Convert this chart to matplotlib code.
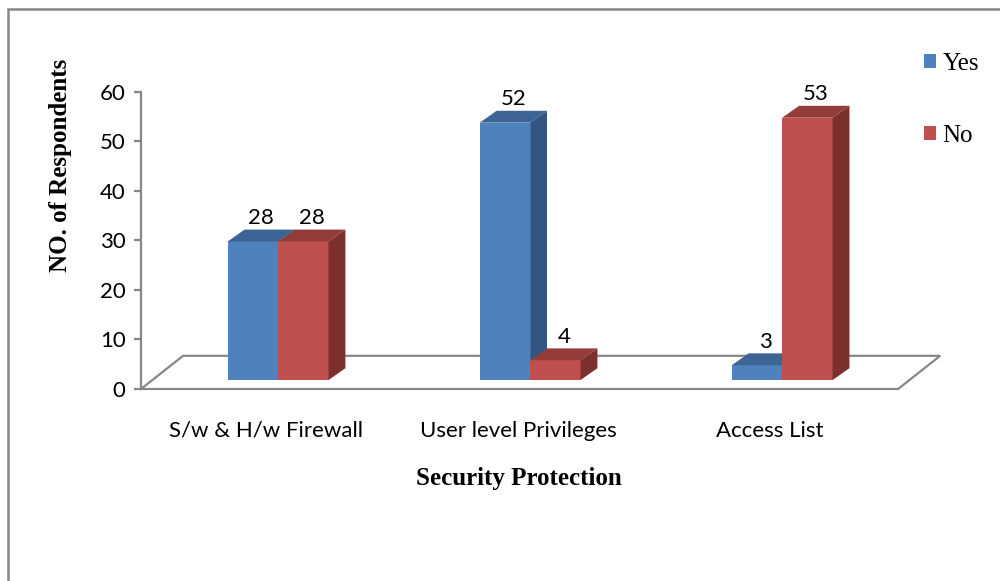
import matplotlib
matplotlib.use('Agg')
import matplotlib.pyplot as plt
from matplotlib.patches import Polygon, Rectangle, Patch

# data
categories = ['S/w & H/w Firewall', 'User level Privileges', 'Access List']
series = ['Yes', 'No']
yes_vals = [28, 52, 3]
no_vals = [28, 4, 53]
yticks = [0, 10, 20, 30, 40, 50, 60]

# face colours: front, top, side
blue = ('#4F81BD', '#3C6494', '#325581')
red = ('#C0504D', '#943C3A', '#7B302E')

# fake 3d geometry in data units
w = 0.2            # bar width
bdx, bdy = 0.067, 2.4   # bar depth
offx, offy = 0.048, 1.8 # bars sit a little way back on the floor
fdx, fdy = 0.167, 6.7   # floor depth
gray = '#878787'

sans = ['Lato', 'DejaVu Sans']
serif = ['Liberation Serif', 'DejaVu Serif']

fig = plt.figure(figsize=(10, 5.81), dpi=100)
ax = fig.add_axes([0.141, 0.3305, 0.809, 0.5112])
pos = list(range(len(categories)))
ax.set_xlim(-0.496, 2.714)
ax.set_ylim(0, 60)

# floor
x_lo, x_hi = -0.496, 2.508
floor = Polygon([(x_lo, 0), (x_hi, 0), (x_hi + fdx, fdy), (x_lo + fdx, fdy)],
                closed=True, fill=False, edgecolor=gray, lw=1.6, zorder=1, clip_on=False)
ax.add_patch(floor)


def bar3d(x0, h, cols):
    x1 = x0 + w
    b = offy
    t = offy + h
    ax.add_patch(Polygon([(x0, b), (x1, b), (x1, t), (x0, t)], closed=True,
                         facecolor=cols[0], edgecolor='none', zorder=3, clip_on=False))
    ax.add_patch(Polygon([(x0, t), (x1, t), (x1 + bdx, t + bdy), (x0 + bdx, t + bdy)], closed=True,
                         facecolor=cols[1], edgecolor='none', zorder=3, clip_on=False))
    ax.add_patch(Polygon([(x1, b), (x1 + bdx, b + bdy), (x1 + bdx, t + bdy), (x1, t)], closed=True,
                         facecolor=cols[2], edgecolor='none', zorder=3, clip_on=False))
    ax.annotate(str(h), (x0 + w / 2 + bdx / 2, t + bdy), xytext=(0, 1), textcoords='offset points',
                ha='center', va='bottom', fontsize=16, family=sans, zorder=5)


for p, yv, nv in zip(pos, yes_vals, no_vals):
    bar3d(p + offx - w, yv, blue)
    bar3d(p + offx, nv, red)

# axes styling
for s in ['top', 'right', 'bottom']:
    ax.spines[s].set_visible(False)
ax.spines['left'].set_color(gray)
ax.spines['left'].set_linewidth(1.6)
ax.spines['left'].set_zorder(2)
ax.set_yticks(yticks)
ax.tick_params(axis='y', length=5, width=1.6, color=gray, labelsize=16, pad=6)
ax.set_xticks(pos, categories)
ax.tick_params(axis='x', length=0, labelsize=16, pad=23)
for lab in ax.get_xticklabels() + ax.get_yticklabels():
    lab.set_family(sans)

fig.text(0.519, 1 - 478 / 581, 'Security Protection', ha='center', va='center',
         fontsize=18, fontweight='bold', family=serif)
fig.text(0.060, 1 - 165 / 581, 'NO. of Respondents', ha='center', va='center', rotation=90,
         fontsize=18, fontweight='bold', family=serif)

handles = [Patch(facecolor=blue[0]), Patch(facecolor=red[0])]
ax.legend(handles, series, loc='upper left', bbox_to_anchor=(0.911, 0.93),
          bbox_transform=fig.transFigure, frameon=False, prop={'family': serif, 'size': 18},
          handlelength=0.5, handleheight=0.5, handletextpad=0.25, labelspacing=2.0, borderpad=0)

# outer frame, runs past the right and bottom edges
fig.patches.append(Rectangle((0.008, -0.1), 1.1, 1.1 - 9.5 / 581, transform=fig.transFigure,
                             fill=False, edgecolor=gray, lw=1.8))

fig.savefig('out.png', dpi=100)
